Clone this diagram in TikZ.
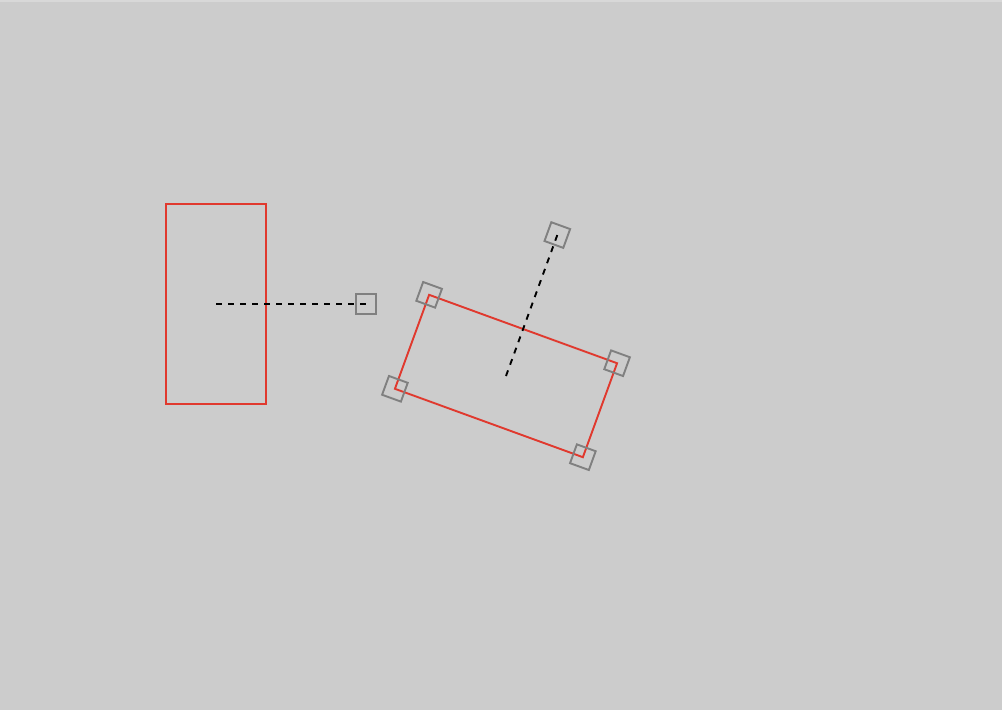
\documentclass[tikz,border=0pt]{standalone}
\usetikzlibrary{calc}
\definecolor{bgc}{HTML}{CCCCCC}
\definecolor{topc}{HTML}{D8D8D8}
\definecolor{redc}{HTML}{E0392E}
\definecolor{handlec}{HTML}{808080}
\tikzset{
  shapebox/.style={draw=redc, line width=1.9pt, inner sep=0pt, outer sep=0pt, rectangle},
  handlebox/.style={draw=handlec, line width=1.9pt, inner sep=0pt, outer sep=0pt, rectangle, minimum size=20pt},
  guide/.style={draw=black, line width=1.9pt, dash pattern=on 6pt off 6pt},
}
\begin{document}
\begin{tikzpicture}[x=1pt, y=-1pt]
  \fill[bgc] (0,0) rectangle (1002,710);
  \fill[topc] (0,0) rectangle (1002,2);
  \useasboundingbox (0,0) rectangle (1002,710);
  % left shape
  \node[shapebox, minimum width=100pt, minimum height=200pt] (r1) at (216,304) {};
  \coordinate (h1) at ($(r1.center)+(0:150pt)$);
  \draw[guide] (r1.center) -- (h1);
  \node[handlebox] (rh1) at (h1) {};
  % rotated shape
  \node[shapebox, rotate=-20, minimum width=200pt, minimum height=100pt] (r2) at (506,376) {};
  \coordinate (h2) at ($(r2.center)+(70:150pt)$);
  \draw[guide] (r2.center) -- (h2);
  \node[handlebox, rotate=-20] (rh2) at (h2) {};
  \node[handlebox, rotate=-20] (c1) at (r2.north west) {};
  \node[handlebox, rotate=-20] (c2) at (r2.north east) {};
  \node[handlebox, rotate=-20] (c3) at (r2.south east) {};
  \node[handlebox, rotate=-20] (c4) at (r2.south west) {};
\end{tikzpicture}
\end{document}
